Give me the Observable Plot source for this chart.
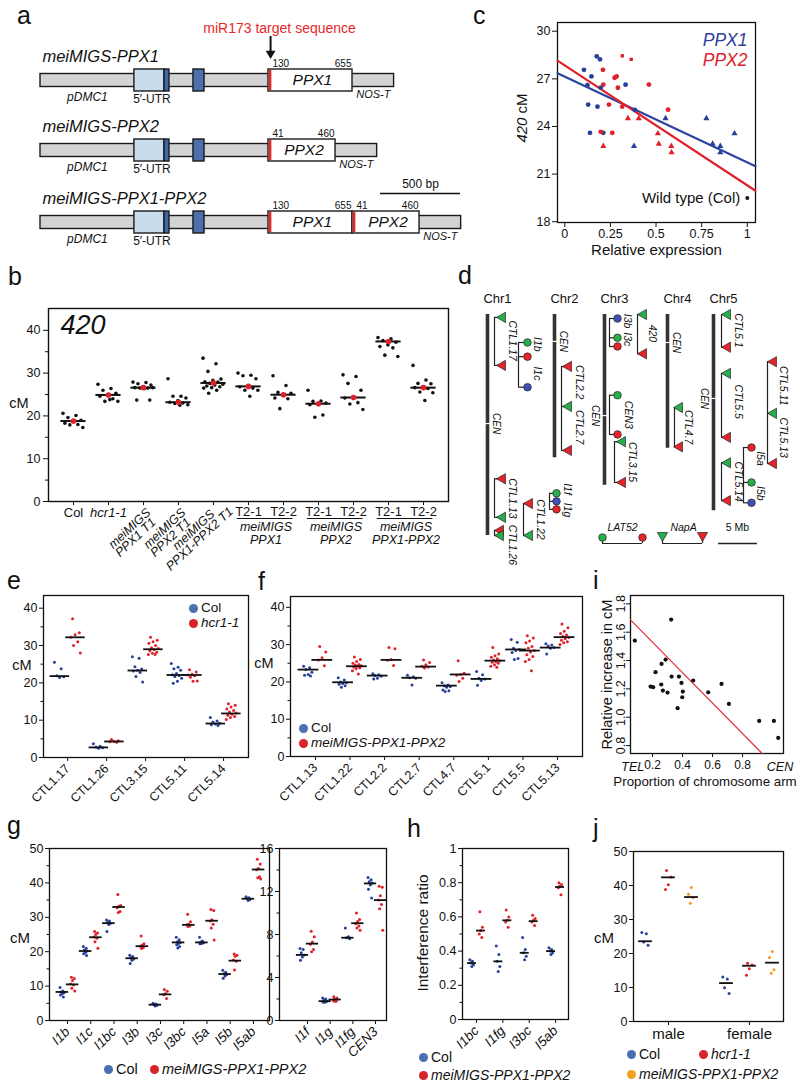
<!DOCTYPE html>
<html><head><meta charset="utf-8">
<script src="https://cdn.jsdelivr.net/npm/d3@7"></script>
<script src="https://cdn.jsdelivr.net/npm/@observablehq/plot@0.6"></script>
<style>
body{margin:0;background:#fff;}
#root{position:relative;width:800px;height:1086px;overflow:hidden;font-family:"Liberation Sans",Arial,Helvetica,sans-serif;color:#111;background:#fff;}
#root svg{background:transparent !important;overflow:visible;max-width:none !important;}
.t{position:absolute;white-space:nowrap;line-height:1;}
</style></head><body><div id="root"></div>
<script>
// ================= DATA =================
// Panel a (construct lengths in bp)
const aConstructs = ["meiMIGS-PPX1","meiMIGS-PPX2","meiMIGS-PPX1-PPX2"];
const aInserts = [["PPX1"],["PPX2"],["PPX1","PPX2"]];
const aGeneRange = {PPX1:[130,655], PPX2:[41,460]};
const aPromoterBp = 1425;      // pDMC1 + 5'-UTR region up to the insert
const aTerminatorBp = 260;     // NOS-T
const aUtrBp = [587,775];
const aUtrExonBp = [775,806];
const aExon2Bp = [956,1025];
const aTargetBp = 26;          // miR173 target sequence
const aScaleBp = 500;
const aScaleStartBp = 2125;

// Panel b
const bAxisLabels = ["Col","hcr1-1","meiMIGS\nPPX1 T1","meiMIGS\nPPX2 T1","meiMIGS\nPPX1-PPX2 T1","T2-1","T2-2","T2-1","T2-2","T2-1","T2-2"];
const bGroups = [{label:"meiMIGS\nPPX1",from:5,to:6},{label:"meiMIGS\nPPX2",from:7,to:8},{label:"meiMIGS\nPPX1-PPX2",from:9,to:10}];
const bValues = [
 [20.6,20.1,19.6,19.0,18.7,18.3,18.0,17.9,17.3],
 [27.4,26.4,26.0,25.3,25.0,24.6,24.0,23.4,23.4,23.8],
 [27.9,27.8,27.5,27.2,26.8,26.6,26.5,26.5,26.6,26.4,23.7,23.7],
 [28.7,24.6,24.6,24.2,23.6,23.2,23.0,22.9,22.6,22.5],
 [33.5,32.2,30.4,28.6,28.3,28.0,27.9,27.6,27.4,27.2,27.0,26.8,26.6,26.5,26.0,25.3],
 [30.0,29.5,29.4,28.7,27.0,26.8,26.5,26.0,26.0,24.6],
 [29.4,27.1,25.5,25.3,24.8,24.2,24.0,21.7],
 [26.0,23.5,23.4,23.0,22.8,22.6,20.2,19.7],
 [29.6,29.2,27.6,26.0,24.4,24.2,23.1,22.8,21.5],
 [38.3,38.0,37.6,37.2,36.6,36.2,35.9,34.2,33.9],
 [31.8,28.4,27.6,27.5,26.8,26.6,26.4,25.6,25.4,23.6]
];
const bMeans = [18.8,24.9,26.6,23.2,27.7,26.9,24.95,22.85,24.3,37.4,26.6];
const bYTicks = [0,10,20,30,40];

// Panel c
const cPPX1Circle = [[0.105,27.57],[0.175,28.42],[0.193,28.23],[0.146,27.15],[0.124,26.6],[0.197,26.45],[0.128,25.38],[0.179,25.25],[0.138,23.6],[0.211,23.6],[0.333,26.63],[0.384,25.05]];
const cPPX1Tri = [[0.379,22.76],[0.552,24.51],[0.776,24.51],[0.81,22.9],[0.852,22.76],[0.852,22.36],[0.93,23.56]];
const cPPX2Circle = [[0.209,27.57],[0.211,26.64],[0.273,27.07],[0.284,27.15],[0.291,26.44],[0.242,25.38],[0.197,23.66],[0.26,23.6],[0.461,26.64],[0.566,25.06],[0.315,25.25]];
const cPPX2Square = [[0.315,28.45],[0.364,28.23]];
const cPPX2Tri = [[0.211,22.76],[0.346,24.51],[0.405,24.51],[0.51,23.56],[0.515,22.9],[0.584,22.76],[0.585,22.36]];
const cFitPPX1 = [[-0.04,27.35],[1.045,21.5]];
const cFitPPX2 = [[-0.04,28.15],[1.045,19.95]];
const cWildType = [1.0,19.5];
const cXTicks = [0,0.25,0.5,0.75,1];
const cYTicks = [18,21,24,27,30];

// Panel d (positions in Mb)
const dChromosomes = [
 {name:"Chr1",length:30.4,cen:15.0},
 {name:"Chr2",length:19.7,cen:3.7},
 {name:"Chr3",length:23.5,cen:13.9},
 {name:"Chr4",length:18.4,cen:3.85},
 {name:"Chr5",length:27.0,cen:11.55}
];
const dIntervals = [
 {id:"CTL1.17",kind:"tri",pos:[0.4,7.0],col:["g","r"],names:["CTL1.17"],namePos:[3.6]},
 {id:"I1b-I1c",kind:"dot",pos:[3.85,5.8,10.0],col:["g","r","b"],names:["I1b","I1c"],namePos:[4.1,8.1]},
 {id:"CTL1.13",kind:"tri",pos:[22.6,27.9],col:["r","g"],names:["CTL1.13"],namePos:[25.3]},
 {id:"CTL1.26",kind:"tri",pos:[29.7,30.4],col:["r","g"],names:["CTL1.26"],namePos:[31.7]},
 {id:"CTL1.22",kind:"tri",pos:[26.0,30.4],col:["r","g"],names:["CTL1.22"],namePos:[28.2]},
 {id:"I1f-I1g",kind:"dot",pos:[24.6,25.7,26.8],col:["g","b","r"],names:["I1f","I1g"],namePos:[24.0,26.9]},
 {id:"CTL2.2-CTL2.7",kind:"tri",pos:[7.15,12.65,18.7],col:["r","g","r"],names:["CTL2.2","CTL2.7"],namePos:[9.3,15.5]},
 {id:"420",kind:"tri",pos:[0,5.4],col:["g","r"],names:["420"],namePos:[2.6]},
 {id:"I3b-I3c",kind:"dot",pos:[0.55,3.2,4.4],col:["b","g","r"],names:["I3b","I3c"],namePos:[0.9,3.4]},
 {id:"CEN3",kind:"dot",pos:[11.1,16.5],col:["g","r"],names:["CEN3"],namePos:[13.8]},
 {id:"CTL3.15",kind:"tri",pos:[17.5,23.1],col:["g","r"],names:["CTL3.15"],namePos:[20.3]},
 {id:"CTL4.7",kind:"tri",pos:[12.8,18.2],col:["g","r"],names:["CTL4.7"],namePos:[15.5]},
 {id:"CTL5.1",kind:"tri",pos:[0,4.5],col:["g","r"],names:["CTL5.1"],namePos:[2.2]},
 {id:"CTL5.5",kind:"tri",pos:[8.1,16.9],col:["g","r"],names:["CTL5.5"],namePos:[12.0]},
 {id:"CTL5.14",kind:"tri",pos:[20.4,25.6],col:["g","r"],names:["CTL5.14"],namePos:[23.0]},
 {id:"I5a-I5b",kind:"dot",pos:[18.3,23.1,25.9],col:["r","g","b"],names:["I5a","I5b"],namePos:[19.8,24.6]},
 {id:"CTL5.11-CTL5.13",kind:"tri",pos:[6.5,13.6,20.5],col:["r","g","r"],names:["CTL5.11","CTL5.13"],namePos:[9.8,16.95]}
];
const dScaleMb = 5;

// Panel e
const eMarkers = ["CTL1.17","CTL1.26","CTL3.15","CTL5.11","CTL5.14"];
const eCol = [
 [25.5,23.8,21.9,21.6,21.4],
 [3.7,3.0,2.8,2.6,2.5],
 [27.0,26.6,24.3,23.7,23.4,23.2,22.8,21.7,20.2],
 [25.2,24.2,23.8,23.4,22.5,22.2,22.0,21.7,21.2,20.4,19.9],
 [10.7,9.8,9.5,9.2,9.0,8.8,8.6]
];
const eColMedian = [21.8,2.7,23.3,22.1,9.1];
const eHcr = [
 [37.2,33.4,32.9,32.2,31.0,30.0,28.0],
 [4.8,4.5,4.3,4.2,4.1],
 [32.2,31.4,31.0,30.6,30.0,29.4,29.2,28.9,28.6,28.2,27.9,27.6,27.6],
 [23.5,22.9,22.3,22.1,21.9,21.5,20.5,20.4],
 [14.4,14.0,13.5,13.0,12.6,12.2,11.9,11.6,11.3,11.0,10.7,10.2]
];
const eHcrMedian = [32.2,4.3,29.0,22.1,11.8];

// Panel f
const fMarkers = ["CTL1.13","CTL1.22","CTL2.2","CTL2.7","CTL4.7","CTL5.1","CTL5.5","CTL5.13"];
const fCol = [
 [24.2,23.8,23.3,22.6,22.0,21.8,21.6],
 [21.1,20.5,20.0,19.8,19.6,19.4,19.0,18.6],
 [22.2,21.9,21.7,21.5,21.0,20.8],
 [21.8,21.4,21.1,21.0,19.2],
 [19.8,19.2,19.0,18.8,18.6,17.8,17.6,17.4],
 [22.8,21.9,21.0,20.8,20.4,19.1],
 [31.4,30.6,29.0,28.7,28.4,27.9,26.3,26.0],
 [30.2,29.9,29.6,29.2,29.0,27.5]
];
const fColMedian = [23.3,19.9,21.7,21.1,19.0,20.8,28.7,29.2];
const fMig = [
 [29.5,28.0,26.5,25.9,24.3],
 [26.7,26.0,25.5,25.0,24.7,24.5,24.3,24.2,24.0,23.8,23.5,23.0,22.1],
 [29.2,28.9,26.0,25.8,24.4],
 [25.9,25.2,24.6,24.2,24.0,23.7],
 [25.7,22.3,22.0,21.8,21.0,20.1],
 [29.2,27.5,27.0,26.6,26.2,25.9,25.7,25.5,25.3,25.0,24.6,24.2,23.9],
 [32.4,31.8,31.0,30.5,29.5,29.0,28.4,28.0,27.3,26.8,26.0,25.5,23.0],
 [35.5,34.5,33.6,33.0,32.6,32.2,31.9,31.6,31.2,30.8,30.5,30.0]
];
const fMigMedian = [25.9,24.2,25.9,24.1,22.0,25.7,28.4,32.0];

// Panel i
const iProportion = [0.082,0.324,0.287,0.26,0.22,0.187,0.204,0.258,0.269,0.3,0.327,0.376,0.393,0.402,0.398,0.367,0.471,0.571,0.66,0.709,0.911,1.009,1.038];
const iIncrease = [1.541,1.689,1.407,1.376,1.318,1.216,1.212,1.231,1.188,1.174,1.287,1.287,1.242,1.181,1.141,1.064,1.259,1.176,1.235,1.094,0.974,0.974,0.854];
const iFit = [[0.053,1.687],[0.931,0.744]];
const iXTicks = [0.2,0.4,0.6,0.8];
const iYTicks = [0.8,1.0,1.2,1.4,1.6,1.8];
const iEndLabels = [["TEL",0.068],["CEN",1.05]];

// Panel g
const gLeftCats = ["I1b","I1c","I1bc","I3b","I3c","I3bc","I5a","I5b","I5ab"];
const gLeftCol = [
 [9.6,8.6,8.3,8.1,7.8,7.4,6.8],
 [21.5,21.0,20.5,20.2,19.8,19.4,18.9],
 [29.2,28.9,28.5,28.3,27.9,25.9],
 [19.0,18.6,18.2,17.9,17.5,16.6],
 [5.0,4.8,4.6,4.4,4.2],
 [24.2,23.5,22.9,22.7,22.4,22.0,21.5,21.1],
 [24.2,23.1,22.8,22.6,22.4,22.3],
 [14.6,14.0,13.6,13.4,12.9,12.3],
 [36.0,35.7,35.4,35.2,34.9]
];
const gLeftColMedian = [8.3,20.2,28.3,18.1,4.6,22.7,22.7,13.5,35.4];
const gLeftMig = [
 [12.6,12.2,11.6,10.6,10.3,9.4,8.6],
 [25.9,25.4,25.0,24.3,23.9,22.9,21.0],
 [36.6,33.4,33.2,32.8,31.7,31.4],
 [24.6,22.3,21.9,21.6,21.2,20.9],
 [9.0,8.5,7.8,7.5,6.4],
 [30.9,28.7,28.0,27.8,27.5,27.3],
 [32.3,32.0,29.3,28.9,28.0,26.9,23.4],
 [19.3,19.0,18.7,17.6,17.2,14.7],
 [46.9,45.5,44.2,43.8,41.8,41.5,41.1]
];
const gLeftMigMedian = [10.5,24.2,33.0,21.6,7.6,27.8,29.0,17.4,43.9];
const gRightCats = ["I1f","I1g","I1fg","CEN3"];
const gRightCol = [[6.7,6.6,6.3,6.1,5.9,5.6],[2.1,2.0,1.9,1.8,1.7,1.7],[8.6,7.8,7.7,7.6],[13.3,13.1,12.9,12.8,12.6,12.2,11.4]];
const gRightColMedian = [6.1,1.8,7.7,12.75];
const gRightMig = [[8.3,7.8,7.3,7.1,6.6,6.4],[2.2,2.1,2.0,1.9,1.8,1.8],[10.0,9.4,9.2,9.0,8.8,8.6,8.4],[12.5,12.4,11.6,11.2,10.8,10.4,8.4]];
const gRightMigMedian = [7.15,1.95,9.05,11.2];

// Panel h
const hCats = ["I1bc","I1fg","I3bc","I5ab"];
const hCol = [[0.35,0.34,0.33,0.32,0.31],[0.43,0.38,0.34,0.31,0.28],[0.48,0.41,0.39,0.37,0.35],[0.42,0.41,0.40,0.39,0.38]];
const hColMedian = [0.33,0.34,0.39,0.40];
const hMig = [[0.63,0.54,0.52,0.50,0.48],[0.64,0.60,0.58,0.57,0.54],[0.61,0.59,0.58,0.57,0.55],[0.80,0.79,0.78,0.77,0.73]];
const hMigMedian = [0.52,0.58,0.575,0.775];

// Panel j
const jCats = ["male","female"];
const jCol = [[26.2,25.8,23.4,22.4],[13.1,12.5,9.9,8.2]];
const jColMedian = [23.6,11.3];
const jHcr = [[44.4,42.5,40.2,38.8],[17.1,16.6,15.5,13.6]];
const jHcrMedian = [42.4,16.4];
const jMig = [[39.4,37.4,36.4,34.8],[20.6,18.8,15.2,14.2]];
const jMigMedian = [36.6,17.3];

// ================= STYLE / HELPERS =================
const FONT = '"Liberation Sans", Arial, Helvetica, sans-serif';
const BLACK="#111", BLUE="#27409a", RED="#e2202a", ORANGE="#f29a1f";
const LBLUE="#4a6fb2", LRED="#d8232b", LORANGE="#f4a01f";
const DG="#26b04b", DR="#e8232a", DB="#3f51b5";
const dColor = {g:DG, r:DR, b:DB};
const baseStyle = {fontFamily:FONT, fontSize:"12px", color:BLACK, background:"transparent", overflow:"visible"};
const root = document.getElementById("root");
const jit = j => ((j*0.6180339887) % 1) - 0.5;

function place(svg, left, top, w){
  const d=document.createElement("div");
  d.style.cssText=`position:absolute;left:${left}px;top:${top}px;width:${w}px;`;
  d.appendChild(svg); root.appendChild(d);
}
function txt(s, x, y, o={}){
  const {size=14, anchor="start", italic=false, color=BLACK, rotate=0} = o;
  const d=document.createElement("div"); d.className="t"; d.innerHTML=s;
  const tx = anchor==="start"?"0":anchor==="middle"?"-50%":"-100%";
  d.style.cssText+=`left:${x}px;top:${y}px;font-size:${size}px;color:${color};font-style:${italic?"italic":"normal"};transform:translate(${tx},-50%) rotate(${rotate}deg);`;
  root.appendChild(d); return d;
}
function letter(s, x, top){ const d=document.createElement("div"); d.className="t"; d.textContent=s; d.style.cssText+=`left:${x}px;top:${top}px;font-size:25px;line-height:1.15;`; root.appendChild(d);}
function legendItem(x, y, color, label, italic, size){
  const c=document.createElement("div");
  c.style.cssText=`position:absolute;left:${x-4.5}px;top:${y-4.5}px;width:9px;height:9px;border-radius:50%;background:${color};`;
  root.appendChild(c);
  txt(label, x+8, y, {size, italic});
}

function stripPlot(o){
  const rows=[], meds=[];
  o.groups.forEach((g,gi)=>{
    g.values.forEach((vals,i)=>{
      vals.forEach((v,j)=>rows.push({x:i+o.offsets[gi]+jit(j+gi*2)*o.jw, y:v, c:g.color}));
      meds.push({x:i+o.offsets[gi], y:g.medians[i]});
    });
  });
  const marks=[
    Plot.frame({stroke:BLACK, strokeWidth:1.3}),
    Plot.axisY({ticks:o.yTicks, tickSize:4, tickPadding:2, fontSize:12.5, label:null, tickFormat:o.yFormat}),
  ];
  if(o.yMinor) marks.push(Plot.axisY({ticks:o.yMinor, tickSize:2.5, tickFormat:()=>"", label:null}));
  const xa = {ticks:d3.range(o.cats.length), tickFormat:i=>o.cats[i], tickSize:4, label:null, fontSize:o.xFont||12.5, fontStyle:o.xItalic?"italic":"normal"};
  if(o.rotate!==0){ Object.assign(xa,{tickRotate:-45, textAnchor:"end", lineAnchor:"middle", tickPadding:5}); }
  else { Object.assign(xa,{tickPadding:3}); }
  marks.push(Plot.axisX(xa));
  marks.push(Plot.dot(rows,{x:"x",y:"y",r:o.r||1.5, fill:"c"}));
  marks.push(Plot.ruleY(meds,{y:"y", x1:d=>d.x-o.mw, x2:d=>d.x+o.mw, stroke:BLACK, strokeWidth:1.8}));
  return Plot.plot({width:o.width,height:o.height,marginLeft:o.ml,marginRight:o.mr,marginTop:o.mt,marginBottom:o.mb,
    x:{domain:o.xDomain}, y:{domain:o.yDomain}, color:{type:"identity"}, style:baseStyle, marks});
}

// ================= PANEL a =================
(function(){
  const rowY=[80,150,222];
  const rects=[], names=[], genes=[], nums=[], pd=[], utr=[], nos=[];
  aConstructs.forEach((name,k)=>{
    const cy=rowY[k];
    let s=aPromoterBp; const boxes=[];
    aInserts[k].forEach(g=>{const [a0,a1]=aGeneRange[g]; boxes.push({g,a0,a1,x1:s,x2:s+(a1-a0)}); s+=a1-a0;});
    const total=s+aTerminatorBp;
    rects.push({x1:0,x2:total,y1:cy-6.5,y2:cy+6.5,fill:"#d3d3d3"});
    rects.push({x1:aUtrBp[0],x2:aUtrBp[1],y1:cy-11,y2:cy+11,fill:"#c9dcec"});
    rects.push({x1:aUtrExonBp[0],x2:aUtrExonBp[1],y1:cy-11,y2:cy+11,fill:"#3f68ab"});
    rects.push({x1:aExon2Bp[0],x2:aExon2Bp[1],y1:cy-11,y2:cy+11,fill:"#4b70ad"});
    boxes.forEach(b=>rects.push({x1:b.x1,x2:b.x2,y1:cy-11,y2:cy+11,fill:"#ffffff"}));
    boxes.forEach(b=>{
      rects.push({x1:b.x1,x2:b.x1+aTargetBp,y1:cy-11,y2:cy+11,fill:"#e8262a",red:true});
      genes.push({x:(b.x1+b.x2)/2+12,y:cy,t:b.g});
      nums.push({x:b.x1,y:cy-17,t:String(b.a0),a:"start"});
      nums.push({x:b.x2,y:cy-17,t:String(b.a1),a:"end"});
    });
    names.push({x:12,y:cy-24,t:name});
    pd.push({x:aUtrBp[0]/2,y:cy+17});
    utr.push({x:(aUtrBp[0]+aUtrExonBp[1])/2,y:cy+19});
    nos.push({x:s+aTerminatorBp/2,y:cy+14});
  });
  const svg=Plot.plot({width:520,height:260,margin:0,
    x:{domain:[-250,3000],range:[0,520],axis:null}, y:{domain:[0,260],range:[0,260],axis:null},
    color:{type:"identity"}, style:baseStyle,
    marks:[
      Plot.rect(rects.filter(r=>!r.red),{x1:"x1",x2:"x2",y1:"y1",y2:"y2",fill:"fill",stroke:"#1a1a1a",strokeWidth:1.4}),
      Plot.rect(rects.filter(r=>r.red),{x1:"x1",x2:"x2",y1:"y1",y2:"y2",fill:"fill",stroke:"none",inset:0.8}),
      Plot.text(names,{x:"x",y:"y",text:"t",textAnchor:"start",lineAnchor:"middle",fontSize:16.5,fontStyle:"italic"}),
      Plot.text(genes,{x:"x",y:"y",text:"t",lineAnchor:"middle",fontSize:15.5,fontStyle:"italic"}),
      Plot.text(nums.filter(n=>n.a==="start"),{x:"x",y:"y",text:"t",textAnchor:"start",dx:4,lineAnchor:"middle",fontSize:10}),
      Plot.text(nums.filter(n=>n.a==="end"),{x:"x",y:"y",text:"t",textAnchor:"end",dx:-1,lineAnchor:"middle",fontSize:10}),
      Plot.text(pd,{x:"x",y:"y",text:()=>"pDMC1",lineAnchor:"middle",fontSize:12,fontStyle:"italic"}),
      Plot.text(utr,{x:"x",y:"y",text:()=>"5′-UTR",lineAnchor:"middle",fontSize:12}),
      Plot.text(nos,{x:"x",y:"y",text:()=>"NOS-T",lineAnchor:"middle",fontSize:11,fontStyle:"italic"}),
      Plot.text(["miR173 target sequence"],{x:aPromoterBp+aTargetBp/2,y:28,dx:9,lineAnchor:"middle",fontSize:14,fill:"#e8262a"}),
      Plot.ruleX([aPromoterBp+aTargetBp/2],{x:d=>d,y1:36,y2:52,stroke:BLACK,strokeWidth:2}),
      Plot.dot([aPromoterBp+aTargetBp/2],{x:d=>d,y:53,symbol:"triangle",rotate:180,r:3.6,fill:BLACK}),
      Plot.ruleY([0],{y:193,x1:aScaleStartBp,x2:aScaleStartBp+aScaleBp,stroke:BLACK,strokeWidth:1.3}),
      Plot.text(["500 bp"],{x:aScaleStartBp+aScaleBp/2,y:184,lineAnchor:"middle",fontSize:12})
    ]});
  place(svg,0,0,520);
})();

// ================= PANEL b =================
(function(){
  const rows=[]; bValues.forEach((vals,i)=>vals.forEach((v,j)=>rows.push({x:i+jit(j)*0.6,y:v})));
  const means=bMeans.map((m,i)=>({x:i,y:m}));
  const T2=[5,6,7,8,9,10], rot=[2,3,4];
  const rotMarks = rot.flatMap(d=>{
    const [l1,l2]=bAxisLabels[d].split("\n");
    const e=Math.max(0,l2.length-7);
    const common={x:v=>v,y:0,rotate:-43,lineAnchor:"middle",textAnchor:"middle",fontSize:12.5,fontStyle:"italic"};
    return [
      Plot.text([d],{...common,text:()=>l1,dx:-14-e*1.2,dy:27+e*0.3}),
      Plot.text([d],{...common,text:()=>l2,dx:-8-e*1.2,dy:36+e*0.3})
    ];
  });
  const svg=Plot.plot({width:460,height:274,marginLeft:48,marginRight:12,marginTop:12,marginBottom:69,
    x:{domain:[-0.714,10.714]}, y:{domain:[0,45.1]}, style:baseStyle,
    marks:[
      Plot.frame({stroke:BLACK,strokeWidth:1.4}),
      Plot.axisY({ticks:bYTicks,tickSize:5,tickPadding:3,fontSize:12.5,label:null}),
      Plot.axisY({ticks:[5,15,25,35],tickSize:3,tickFormat:()=>"",label:null}),
      Plot.axisX({ticks:d3.range(11),tickSize:4,tickFormat:()=>"",label:null}),
      Plot.dot(rows,{x:"x",y:"y",r:1.8,fill:BLACK}),
      Plot.ruleY(means,{y:"y",x1:d=>d.x-0.36,x2:d=>d.x+0.36,stroke:BLACK,strokeWidth:2}),
      Plot.dot(means,{x:"x",y:"y",r:2.8,fill:RED}),
      Plot.text(["420"],{frameAnchor:"top-left",dx:12,dy:17,lineAnchor:"middle",fontSize:27,fontStyle:"italic"}),
      Plot.text([0],{x:d=>d,y:0,text:d=>bAxisLabels[d],dy:11,lineAnchor:"middle",fontSize:13}),
      Plot.text([1],{x:d=>d,y:0,text:d=>bAxisLabels[d],dy:11,lineAnchor:"middle",fontSize:13,fontStyle:"italic"}),
      Plot.text(T2,{x:d=>d,y:0,text:d=>bAxisLabels[d],dy:10,lineAnchor:"middle",fontSize:13}),
      ...rotMarks,
      Plot.ruleY(bGroups,{y:0,x1:d=>d.from-0.32,x2:d=>d.to+0.27,dy:17,stroke:BLACK,strokeWidth:1.2}),
      Plot.text(bGroups,{x:d=>(d.from+d.to)/2,y:0,text:"label",dy:20,lineAnchor:"top",fontSize:12.5,fontStyle:"italic",lineHeight:1.05})
    ]});
  place(svg,0,296,460);
})();

// ================= PANEL c =================
(function(){
  const P=a=>({x:a[0],y:a[1]});
  const svg=Plot.plot({width:300,height:262,marginLeft:57,marginRight:45,marginTop:22,marginBottom:40,
    x:{domain:[-0.04,1.045]}, y:{domain:[17.95,30.55]}, style:baseStyle,
    marks:[
      Plot.frame({stroke:BLACK,strokeWidth:1.3}),
      Plot.axisY({ticks:cYTicks,tickSize:5,tickPadding:2,fontSize:12.5,label:null}),
      Plot.axisX({ticks:cXTicks,tickFormat:d=>String(d),tickSize:5,tickPadding:2,fontSize:12.5,label:null}),
      Plot.line(cFitPPX1.map(P),{x:"x",y:"y",stroke:"#2f43a0",strokeWidth:2.2}),
      Plot.line(cFitPPX2.map(P),{x:"x",y:"y",stroke:RED,strokeWidth:2.2}),
      Plot.dot(cPPX1Circle.map(P),{x:"x",y:"y",r:2.4,fill:BLUE}),
      Plot.dot(cPPX1Tri.map(P),{x:"x",y:"y",r:2.3,symbol:"triangle",fill:BLUE}),
      Plot.dot(cPPX2Circle.map(P),{x:"x",y:"y",r:2.4,fill:RED}),
      Plot.dot(cPPX2Square.map(P),{x:"x",y:"y",r:1.9,symbol:"square",fill:RED}),
      Plot.dot(cPPX2Tri.map(P),{x:"x",y:"y",r:2.3,symbol:"triangle",fill:RED}),
      Plot.text(["PPX1"],{frameAnchor:"top-right",dx:-8,dy:18,textAnchor:"end",lineAnchor:"middle",fontSize:17.5,fontStyle:"italic",fill:"#2f3f9c"}),
      Plot.text(["PPX2"],{frameAnchor:"top-right",dx:-8,dy:38,textAnchor:"end",lineAnchor:"middle",fontSize:17.5,fontStyle:"italic",fill:RED}),
      Plot.dot([P(cWildType)],{x:"x",y:"y",r:2,fill:BLACK}),
      Plot.text([P(cWildType)],{x:"x",y:"y",text:()=>"Wild type (Col)",dx:-7,textAnchor:"end",lineAnchor:"middle",fontSize:15}),
      Plot.text(["Relative expression"],{frameAnchor:"bottom",dy:28,textAnchor:"middle",lineAnchor:"middle",fontSize:15})
    ]});
  place(svg,500,0,300);
})();

// ================= PANEL d =================
(function(){
  const PX=7.27, Y0=314;               // px per Mb, page y of 0 Mb
  const mb = py => (py-Y0)/PX;         // layout helper (page px -> Mb)
  const chrX=[487,554,604,667,713], cenSide=[1,1,-1,1,-1];
  const cols={"CTL1.17":[494,502,512],"I1b-I1c":[518,527,537],"CTL1.13":[494,502,512],"CTL1.26":[494,500,512],"CTL1.22":[523,529,540],
    "I1f-I1g":[549,556,567],"CTL2.2-CTL2.7":[561,568,579],"420":[637,643,652],"I3b-I3c":[609,617,627],"CEN3":[609,617,628],
    "CTL3.15":[614,622,632],"CTL4.7":[674,679,688],"CTL5.1":[721,727,738],"CTL5.5":[721,727,738],"CTL5.14":[721,727,738],
    "I5a-I5b":[743,751,760],"CTL5.11-CTL5.13":[767,773,783]};
  const chr=dChromosomes.map((c,i)=>({...c,x:chrX[i],lx:chrX[i]+cenSide[i]*9}));
  const vert=[], hor=[], tris=[], dots=[], labels=[];
  dIntervals.forEach(iv=>{
    const [bx,mx,lx]=cols[iv.id];
    vert.push({x:bx,y1:d3.min(iv.pos),y2:d3.max(iv.pos)});
    iv.pos.forEach((p,k)=>{
      hor.push({y:p,x1:bx,x2:mx});
      (iv.kind==="tri"?tris:dots).push({x:mx,y:p,c:dColor[iv.col[k]]});
    });
    iv.names.forEach((n,k)=>labels.push({x:lx,y:iv.namePos[k],t:n}));
  });
  const legendY=mb(537), legendBr=mb(543), legendTxt=mb(527);
  const svg=Plot.plot({width:330,height:285,margin:0,
    x:{domain:[470,800],range:[0,330],axis:null}, y:{domain:[mb(285),mb(570)],range:[0,285],axis:null},
    color:{type:"identity"}, style:baseStyle,
    marks:[
      Plot.ruleX(chr,{x:"x",y1:0,y2:"length",stroke:"#333",strokeWidth:3.6}),
      Plot.ruleY(chr,{y:"cen",x1:d=>d.x-3,x2:d=>d.x+3,stroke:"#fff",strokeWidth:1.2}),
      Plot.text(chr,{x:"x",y:0,text:"name",dx:10,dy:-16,lineAnchor:"middle",fontSize:13}),
      Plot.text(chr,{x:"lx",y:"cen",text:()=>"CEN",rotate:90,lineAnchor:"middle",fontSize:10,fontStyle:"italic"}),
      Plot.ruleX(vert,{x:"x",y1:"y1",y2:"y2",stroke:"#222",strokeWidth:1.2}),
      Plot.ruleY(hor,{y:"y",x1:"x1",x2:"x2",stroke:"#222",strokeWidth:1.2}),
      Plot.dot(tris,{x:"x",y:"y",symbol:"triangle",rotate:-90,r:3.8,fill:"c",stroke:"#222",strokeWidth:0.7}),
      Plot.dot(dots,{x:"x",y:"y",r:3.8,fill:"c",stroke:"#222",strokeWidth:0.7}),
      Plot.text(labels,{x:"x",y:"y",text:"t",rotate:90,lineAnchor:"middle",fontSize:10.5,fontStyle:"italic"}),
      // legend
      Plot.text(["LAT52"],{x:622,y:legendTxt,lineAnchor:"middle",fontSize:10.5,fontStyle:"italic"}),
      Plot.ruleY([0],{y:legendBr,x1:602,x2:642,stroke:"#222",strokeWidth:1.2}),
      Plot.ruleX([602,642],{x:d=>d,y1:legendY,y2:legendBr,stroke:"#222",strokeWidth:1.2}),
      Plot.dot([{x:602,c:DG},{x:642,c:DR}],{x:"x",y:legendY,r:3.8,fill:"c",stroke:"#222",strokeWidth:0.7}),
      Plot.text(["NapA"],{x:683,y:legendTxt,lineAnchor:"middle",fontSize:10.5,fontStyle:"italic"}),
      Plot.ruleY([0],{y:legendBr,x1:662,x2:702,stroke:"#222",strokeWidth:1.2}),
      Plot.ruleX([662,702],{x:d=>d,y1:mb(535),y2:legendBr,stroke:"#222",strokeWidth:1.2}),
      Plot.dot([{x:662,c:DG},{x:702,c:DR}],{x:"x",y:mb(535),symbol:"triangle",rotate:180,r:3.8,fill:"c",stroke:"#222",strokeWidth:0.7}),
      Plot.ruleY([0],{y:legendBr,x1:718,x2:718+dScaleMb*PX*1.07,stroke:"#222",strokeWidth:1.3}),
      Plot.text([dScaleMb+" Mb"],{x:737,y:legendTxt,lineAnchor:"middle",fontSize:10.5})
    ]});
  place(svg,470,285,330);
})();

// ================= PANEL e =================
place(stripPlot({cats:eMarkers,groups:[{values:eCol,medians:eColMedian,color:BLUE},{values:eHcr,medians:eHcrMedian,color:RED}],
  width:260,height:200,ml:43,mr:12,mt:5,mb:33,xDomain:[-0.62,4.64],yDomain:[0,43.4],yTicks:[0,10,20,30,40],yMinor:[5,15,25,35],
  offsets:[-0.2,0.2],jw:0.28,mw:0.25,xFont:12.5}),0,590,260);

// ================= PANEL f =================
place(stripPlot({cats:fMarkers,groups:[{values:fCol,medians:fColMedian,color:BLUE},{values:fMig,medians:fMigMedian,color:RED}],
  width:330,height:200,ml:30,mr:8,mt:6,mb:34,xDomain:[-0.72,7.72],yDomain:[0,42.9],yTicks:[0,10,20,30,40],yMinor:[5,15,25,35],
  offsets:[-0.2,0.2],jw:0.28,mw:0.3,xFont:12.5}),260,590,330);

// ================= PANEL i =================
(function(){
  const pts=iProportion.map((x,k)=>({x,y:iIncrease[k]}));
  const svg=Plot.plot({width:240,height:220,marginLeft:70,marginRight:17,marginTop:25,marginBottom:37,
    x:{domain:[0.053,1.073]}, y:{domain:[0.744,1.859]}, style:baseStyle,
    marks:[
      Plot.frame({stroke:BLACK,strokeWidth:1.3}),
      Plot.axisY({ticks:iYTicks,tickFormat:d3.format(".1f"),tickSize:4,tickPadding:2,tickRotate:-90,fontSize:12.5,label:null}),
      Plot.axisX({ticks:iXTicks,tickFormat:d3.format(".1f"),tickSize:4,tickPadding:3,fontSize:12,label:null}),
      Plot.text(iEndLabels,{x:d=>d[1],y:0.744,text:d=>d[0],dy:13,lineAnchor:"middle",fontSize:12.5,fontStyle:"italic"}),
      Plot.line(iFit.map(a=>({x:a[0],y:a[1]})),{x:"x",y:"y",stroke:"#e2323c",strokeWidth:1.2}),
      Plot.dot(pts,{x:"x",y:"y",r:2.1,fill:BLACK}),
      Plot.text(["Relative increase in cM"],{frameAnchor:"left",dx:-23,rotate:-90,textAnchor:"middle",lineAnchor:"middle",fontSize:14.5}),
      Plot.text(["Proportion of chromosome arm"],{frameAnchor:"bottom",dx:-2,dy:28,textAnchor:"middle",lineAnchor:"middle",fontSize:13.3})
    ]});
  place(svg,560,570,240);
})();

// ================= PANEL g =================
place(stripPlot({cats:gLeftCats,groups:[{values:gLeftCol,medians:gLeftColMedian,color:BLUE},{values:gLeftMig,medians:gLeftMigMedian,color:RED}],
  width:275,height:215,ml:49,mr:6,mt:13,mb:30,xDomain:[-0.774,8.69],yDomain:[0,50],yTicks:[0,10,20,30,40,50],yMinor:[5,15,25,35,45],
  offsets:[-0.22,0.22],jw:0.2,mw:0.27,xFont:13.5,xItalic:true}),0,835,275);
place(stripPlot({cats:gRightCats,groups:[{values:gRightCol,medians:gRightColMedian,color:BLUE},{values:gRightMig,medians:gRightMigMedian,color:RED}],
  width:140,height:215,ml:24,mr:9,mt:13,mb:30,xDomain:[-1.235,3.485],yDomain:[0,16],yTicks:[0,4,8,12,16],yMinor:[2,6,10,14],
  offsets:[-0.22,0.22],jw:0.22,mw:0.27,xFont:13.5,xItalic:true}),255,835,140);

// ================= PANEL h =================
place(stripPlot({cats:hCats,groups:[{values:hCol,medians:hColMedian,color:BLUE},{values:hMig,medians:hMigMedian,color:RED}],
  width:150,height:215,ml:32,mr:12,mt:13,mb:31,xDomain:[-0.53,3.49],yDomain:[0,1],yTicks:[0,0.2,0.4,0.6,0.8,1],
  yFormat:d=>d===0?"0":d===1?"1":d.toFixed(1),yMinor:[0.1,0.3,0.5,0.7,0.9],
  offsets:[-0.17,0.17],jw:0.16,mw:0.17,xFont:13.5,xItalic:true}),430,835,150);

// ================= PANEL j =================
place(stripPlot({cats:jCats,groups:[{values:jCol,medians:jColMedian,color:BLUE},{values:jHcr,medians:jHcrMedian,color:RED},{values:jMig,medians:jMigMedian,color:ORANGE}],
  width:200,height:215,ml:33,mr:17,mt:16,mb:29,xDomain:[-0.432,1.42],yDomain:[0,50],yTicks:[0,10,20,30,40,50],
  offsets:[-0.284,0,0.284],jw:0.09,mw:0.085,rotate:0,xFont:15}),600,835,200);

// ================= HTML TEXT =================
letter("a",17,1); letter("c",473,1); letter("b",8,262); letter("d",458,261);
letter("e",7,566); letter("f",258,567); letter("i",593,566);
letter("g",7,811); letter("h",407,814); letter("j",593,814);
txt("<i>420</i> cM",521,118,{size:15,anchor:"middle",rotate:-90});
txt("cM",19,403,{size:14.5,anchor:"middle"});
txt("cM",22,665,{size:14.5,anchor:"middle"});
txt("cM",264,663,{size:14.5,anchor:"middle"});
txt("cM",20,937,{size:15,anchor:"middle"});
txt("cM",604,937,{size:15,anchor:"middle"});
txt("Interference ratio",423,933,{size:15.5,anchor:"middle",rotate:-90});
legendItem(193,608,LBLUE,"Col",false,13.5); legendItem(193,623,LRED,"hcr1-1",true,13.5);
legendItem(303,728,LBLUE,"Col",false,13.5); legendItem(303,743,LRED,"meiMIGS-PPX1-PPX2",true,13.5);
legendItem(108,1069,LBLUE,"Col",false,14.5); legendItem(154,1069,LRED,"meiMIGS-PPX1-PPX2",true,14.5);
legendItem(423,1057,LBLUE,"Col",false,14); legendItem(423,1075,LRED,"meiMIGS-PPX1-PPX2",true,14);
legendItem(631,1054,LBLUE,"Col",false,14); legendItem(703,1054,LRED,"hcr1-1",true,14); legendItem(631,1074,LORANGE,"meiMIGS-PPX1-PPX2",true,14);
</script></body></html>
